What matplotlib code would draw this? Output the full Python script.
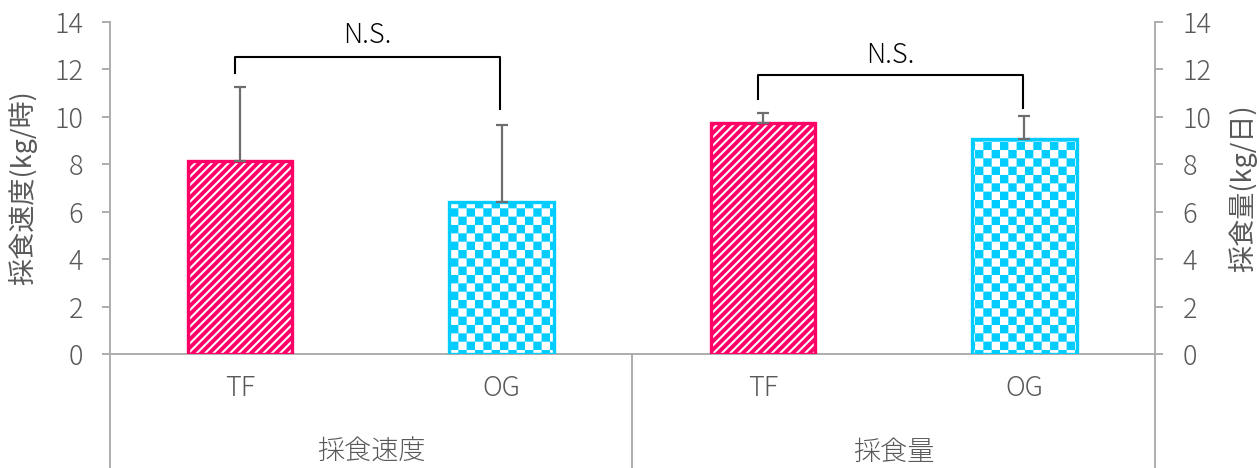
import warnings
import numpy as np
import matplotlib
matplotlib.use("Agg")
import matplotlib.pyplot as plt
import matplotlib.hatch as mhatch
from matplotlib.path import Path

warnings.filterwarnings("ignore")

# data
groups = ["採食速度", "採食量"]
treatments = ["TF", "OG"]
rate_mean = [8.12, 6.39]      # kg/時
rate_err = [3.15, 3.27]
intake_mean = [9.74, 9.07]    # kg/日
intake_err = [0.44, 0.98]
sig_labels = ["N.S.", "N.S."]

plt.rcParams["font.family"] = ["Noto Sans CJK JP", "DejaVu Sans"]
plt.rcParams["font.size"] = 19.5
plt.rcParams["font.weight"] = "light"

TF_COLOR = "#FF0066"
OG_COLOR = "#00CCFF"
GREY = "#595959"
AXIS_GREY = "#ADADAD"


# checkerboard hatch (no built-in one in matplotlib)
class CheckerHatch(mhatch.HatchPatternBase):
    def __init__(self, hatch, density):
        self.n = 12 if "k" in hatch else 0
        self.num_vertices = (self.n * self.n // 2) * 5

    def set_vertices_and_codes(self, vertices, codes):
        s = 1.0 / self.n
        k = 0
        for i in range(self.n):
            for j in range(self.n):
                if (i + j) % 2 == 0:
                    x0, y0 = i * s, j * s
                    vertices[k:k + 5] = [(x0, y0), (x0 + s, y0), (x0 + s, y0 + s),
                                         (x0, y0 + s), (x0, y0)]
                    codes[k:k + 5] = [Path.MOVETO, Path.LINETO, Path.LINETO,
                                      Path.LINETO, Path.CLOSEPOLY]
                    k += 5


mhatch._hatch_types.append(CheckerHatch)


def hatched_bars(axis, x, heights, color, pattern):
    if pattern == "checker":
        plt.rcParams["hatch.linewidth"] = 0.05
        bars = axis.bar(x, heights, width=0.4, color="white", edgecolor=color,
                        hatch="k", linewidth=0, zorder=2)
        hlw = 0.05
    else:
        plt.rcParams["hatch.linewidth"] = 1.5
        bars = axis.bar(x, heights, width=0.4, color=color, edgecolor="white",
                        hatch="////", linewidth=0, zorder=2)
        hlw = 1.5
    for b in bars:
        if hasattr(b, "set_hatch_linewidth"):
            b.set_hatch_linewidth(hlw)
    axis.bar(x, heights, width=0.4, fill=False, edgecolor=color, linewidth=2.4, zorder=3)


fig = plt.figure(figsize=(12.59, 4.68), dpi=100)
fig.subplots_adjust(left=109.5 / 1259, right=1155 / 1259, bottom=114 / 468, top=446 / 468)
ax = fig.add_subplot(111)
ax2 = ax.twinx()

x_rate = np.arange(len(treatments))
x_intake = x_rate + len(treatments)

# rate bars on the left axis, intake bars on the right axis
for axis, xs, means, errs in [(ax, x_rate, rate_mean, rate_err),
                              (ax2, x_intake, intake_mean, intake_err)]:
    hatched_bars(axis, xs[0], means[0], TF_COLOR, "diag")
    hatched_bars(axis, xs[1], means[1], OG_COLOR, "checker")
    axis.errorbar(xs, means, yerr=[np.zeros(len(errs)), errs], fmt="none",
                  ecolor="#6E6E6E", elinewidth=1.6, capsize=4.5, capthick=1.6, zorder=4)

# significance brackets
brackets = [(x_rate, 12.54, 11.84, 10.33, 13.45), (x_intake, 11.77, 10.74, 10.36, 12.6)]
for (xs, top, yl, yr, ty), lab in zip(brackets, sig_labels):
    x0, x1 = xs[0] - 0.02, xs[1] - 0.005
    ax.plot([x0, x0, x1, x1], [yl, top, top, yr], color="black", lw=1.5,
            clip_on=False, zorder=5)
    ax.text((x0 + x1) / 2, ty, lab, ha="center", va="center", color="black")

n_cat = len(treatments) * len(groups)
for a in (ax, ax2):
    a.set_xlim(-0.5, n_cat - 0.5)
    a.set_ylim(0, 14)
    a.set_yticks(np.arange(0, 15, 2))
    a.spines["top"].set_visible(False)
    for s in a.spines.values():
        s.set_color(AXIS_GREY)
        s.set_linewidth(1.4)
ax.spines["right"].set_visible(False)
ax2.spines["left"].set_visible(False)
ax2.spines["bottom"].set_visible(False)

ax.tick_params(axis="y", direction="out", length=6, width=1.4, color=AXIS_GREY,
               labelcolor=GREY, pad=13)
ax2.tick_params(axis="y", direction="out", length=6, width=1.4, color=AXIS_GREY,
                labelcolor=GREY, pad=14)
ax.set_xticks([])

ax.set_ylabel("採食速度(kg/時)", color=GREY)
ax.yaxis.set_label_coords(-0.069, 0.5)
ax2.set_ylabel("採食量(kg/日)", color=GREY)
ax2.yaxis.set_label_coords(1.07, 0.5)

# two-level category axis
xt = ax.get_xaxis_transform()
for i, x in enumerate(np.concatenate([x_rate, x_intake])):
    ax.text(x, -0.102, treatments[i % len(treatments)], transform=xt,
            ha="center", va="center", color=GREY)
for g, xs in zip(groups, [x_rate, x_intake]):
    ax.text(xs.mean(), -0.295, g, transform=xt, ha="center", va="center", color=GREY)
for xd in np.arange(0, n_cat + 1, len(treatments)) - 0.5:
    ax.plot([xd, xd], [0, -0.36], transform=xt, color=AXIS_GREY, lw=1.4, clip_on=False)

fig.savefig("out.png", dpi=100)
